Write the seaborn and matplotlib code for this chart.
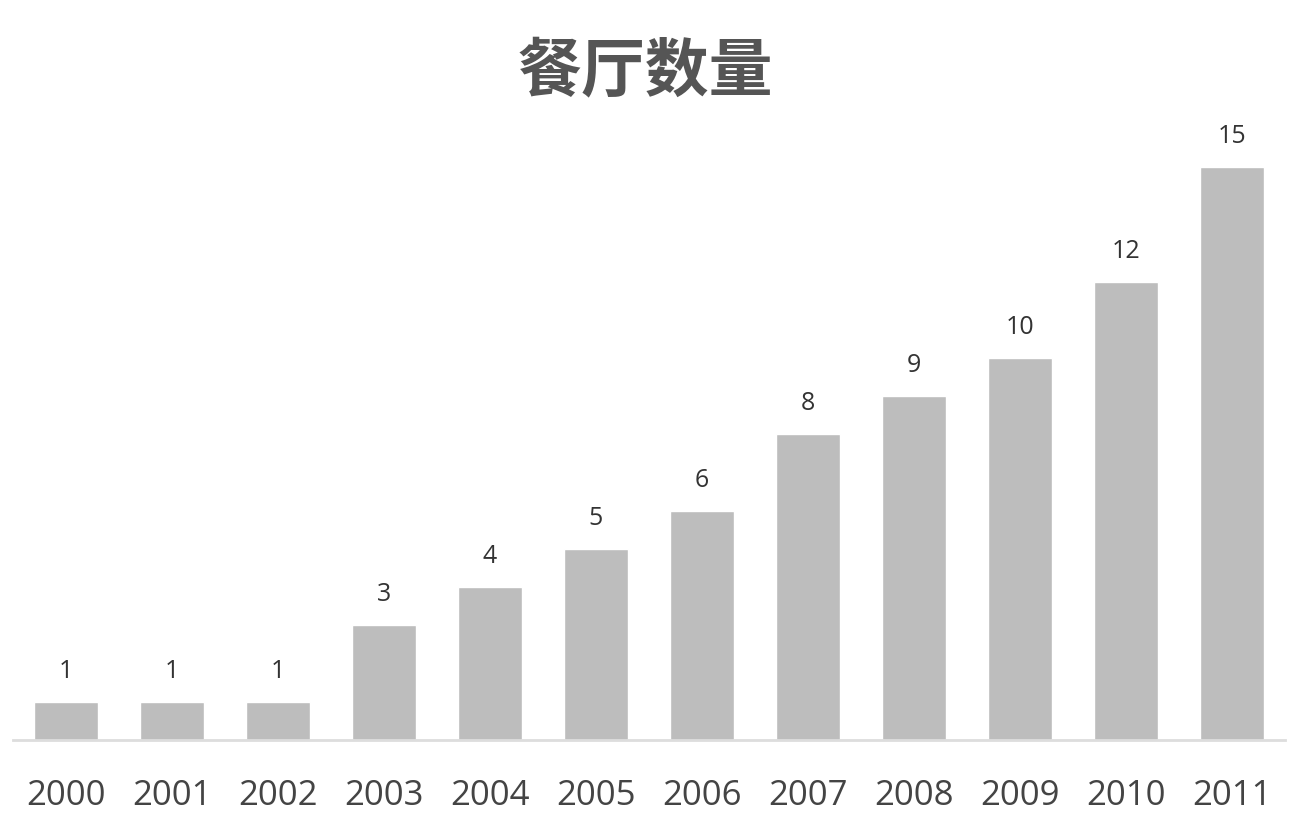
import matplotlib
matplotlib.use("Agg")
import matplotlib.pyplot as plt
import seaborn as sns
import pandas as pd

years = ["2000", "2001", "2002", "2003", "2004", "2005",
         "2006", "2007", "2008", "2009", "2010", "2011"]
counts = [1, 1, 1, 3, 4, 5, 6, 8, 9, 10, 12, 15]
title = "餐厅数量"

df = pd.DataFrame({"year": years, "count": counts})

sns.set_style("white")
plt.rcParams["font.family"] = ["Open Sans", "Noto Sans CJK SC", "DejaVu Sans"]

fig = plt.figure(figsize=(12.9, 8.32), dpi=100)
ax = fig.add_axes([13 / 1290, 1 - 740 / 832, 1272 / 1290, 630 / 832])

sns.barplot(data=df, x="year", y="count", color="#bdbdbd", saturation=1,
            width=0.61, ax=ax)

for i, v in enumerate(counts):
    ax.annotate(str(v), (i, v), xytext=(0, 13), textcoords="offset points",
                ha="center", va="bottom", fontsize=18, color="#333333")

ax.set_xlim(-0.5, 11.5)
ax.set_ylim(0, 630 / 38.2)
ax.set_xlabel("")
ax.set_ylabel("")
ax.set_yticks([])
ax.tick_params(axis="x", length=0, pad=28, labelsize=25, labelcolor="#444444")
sns.despine(ax=ax, left=True, top=True, right=True)
ax.spines["bottom"].set_color("#dddddd")
ax.spines["bottom"].set_linewidth(2)

fig.text(0.5, 1 - 72 / 832, title, ha="center", va="center", fontsize=46,
         fontweight="bold", color="#555555",
         family=["Noto Sans CJK SC", "DejaVu Sans"])

fig.savefig("out.png", dpi=100)
